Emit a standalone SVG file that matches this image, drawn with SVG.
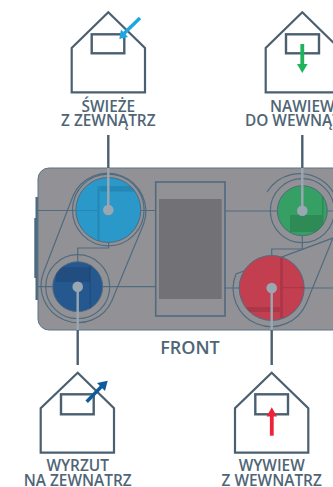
<svg xmlns="http://www.w3.org/2000/svg" width="333" height="487" viewBox="0 0 333 487">
<style>
.ln{fill:none;stroke:#4f6b80;stroke-width:1.2}
.pn{fill:none;stroke:#4f6b80;stroke-width:1.6}
.hs{fill:none;stroke:#4a6071;stroke-width:2.2}
.win{fill:none;stroke:#4a6071;stroke-width:2.4}
.lead{fill:none;stroke:#4a6071;stroke-width:2.4}
.pin{fill:none;stroke:#9aa7b3;stroke-width:2.4}
.dot{fill:#9aa7b3}
.lb{font-family:"Open Sans",sans-serif;font-weight:600;font-size:15.4px;fill:#4f6576;text-anchor:middle}
</style>
<defs>
<clipPath id="cb"><circle cx="108.3" cy="210" r="32.5"/></clipPath>
<clipPath id="cd"><circle cx="77.7" cy="286.7" r="25"/></clipPath>
<clipPath id="cg"><circle cx="302.3" cy="210.7" r="25"/></clipPath>
<clipPath id="cr"><circle cx="271.7" cy="288" r="32.5"/></clipPath>
</defs>
<g id="device">
<rect x="35.500" y="197" width="5" height="103" fill="#4a6a80"/>
<rect x="34.300" y="218" width="5" height="60" fill="#4a6a80"/>
<rect x="38" y="168" width="310" height="162" rx="11" fill="#929296" stroke="#5a7488" stroke-width="1"/>
<rect x="155.700" y="182" width="69.300" height="134" class="pn"/>
<rect x="159" y="199" width="62.700" height="100" fill="#727276"/>
<path class="ln" d="M38 210.500H75M140 210.500H156M38 286.700H52M102 286.700H156M225 211H277M327 211H333M225 288H240M304 288H333"/>
<path class="ln" d="M108.600 243V248H77.700V262M302.300 236V249H271.700V255"/>
<path class="ln" d="M73 196A38 38 0 0 1 143.600 224L112 300.400A37 37 0 0 1 43.300 273Z"/>
<path class="ln" d="M267 192A38 38 0 0 1 333 233M333 238L306.500 303A38 38 0 0 1 236 274Z"/>
<circle cx="108.300" cy="210" r="35.800" class="ln"/>
<circle cx="77.700" cy="286.700" r="32" class="ln"/>
<circle cx="302.300" cy="210.700" r="32" class="ln"/>
</g>
<g id="fan-fresh">
<circle cx="108.300" cy="210" r="32.500" fill="#2a98c8" stroke="#4f6b80"/>
<g clip-path="url(#cb)" fill="#1f6f99" fill-opacity=".4"><rect x="100" y="186" width="35" height="5.500"/><rect x="97.500" y="186" width="2" height="60"/><rect x="75" y="210" width="22" height="1"/></g>
<path class="pin" d="M108.300 168V210"/><circle cx="108.300" cy="210" r="5.300" class="dot"/>
</g>
<g id="fan-exhaust">
<circle cx="77.700" cy="286.700" r="25" fill="#25588f" stroke="#4f6b80"/>
<g clip-path="url(#cd)" fill="#1c4070" fill-opacity=".45"><rect x="56" y="267" width="34" height="15"/><rect x="89.500" y="262" width="1.500" height="50"/></g>
<path class="pin" d="M77.700 286.700V330"/><circle cx="77.700" cy="286.700" r="5.300" class="dot"/>
</g>
<g id="fan-supply">
<circle cx="302.300" cy="210.700" r="25" fill="#369f63" stroke="#4f6b80"/>
<g clip-path="url(#cg)" fill="#26774a" fill-opacity=".5"><rect x="290" y="215" width="32" height="17"/><rect x="322" y="190" width="1.500" height="40"/></g>
<path class="pin" d="M302.300 168V210.700"/><circle cx="302.300" cy="210.700" r="5.300" class="dot"/>
</g>
<g id="fan-extract">
<circle cx="271.700" cy="288" r="32.500" fill="#c33f4f" stroke="#4f6b80"/>
<g clip-path="url(#cr)" fill="#8f3040" fill-opacity=".45"><rect x="245" y="307" width="35" height="5"/><rect x="280" y="258" width="3" height="60"/><rect x="283" y="287" width="25" height="1.200"/></g>
<path class="pin" d="M271.700 288V330"/><circle cx="271.700" cy="288" r="5.300" class="dot"/>
</g>
<g id="connectors">
<path class="lead" d="M108.300 135V168M77.700 330V365M302.300 135V168M271.700 330V365"/>
</g>
<g id="house-fresh">
<path class="hs" d="M108.300 12.300L145 48V92.300H71.700V48Z"/>
<rect x="91.700" y="34.300" width="32.600" height="19" class="win"/>
<path d="M140 18L124 33.500" stroke="#1ea6e0" stroke-width="3.400" fill="none"/>
<path d="M119.300 39L121 29.500L128 37Z" fill="#1ea6e0"/>
<text class="lb" x="108.300" y="111.500">ŚWIEŻE</text><text class="lb" x="108.300" y="126.300">Z ZEWNĄTRZ</text>
</g>
<g id="house-supply">
<path class="hs" d="M302.300 12.300L339 48V92.300H265.700V48Z"/>
<rect x="286" y="34.300" width="33" height="19" class="win"/>
<path d="M302.300 44V65" stroke="#1fb35c" stroke-width="3.800" fill="none"/>
<path d="M302.300 73L297 64H307.600Z" fill="#1fb35c"/>
<text class="lb" x="302.300" y="111.500">NAWIEW</text><text class="lb" x="302.300" y="126.300">DO WEWNĄTRZ</text>
</g>
<g id="house-exhaust">
<path class="hs" d="M77.700 372.700L114 408.300V452.700H40.700V408.300Z"/>
<rect x="61" y="394.300" width="32.700" height="20" class="win"/>
<path d="M86.700 401.700L102 386" stroke="#0f5a9a" stroke-width="3.400" fill="none"/>
<path d="M107.700 380.700L105 391L97 383Z" fill="#0f5a9a"/>
<text class="lb" x="77.700" y="471.300">WYRZUT</text><text class="lb" x="77.700" y="486">NA ZEWNATRZ</text>
</g>
<g id="house-extract">
<path class="hs" d="M271.700 372.700L308.300 408.300V452.700H235V408.300Z"/>
<rect x="255.300" y="394.300" width="32.700" height="20" class="win"/>
<path d="M271.800 435.700V415" stroke="#ee2238" stroke-width="3.800" fill="none"/>
<path d="M271.800 407.300L277 416.500H266.600Z" fill="#ee2238"/>
<text class="lb" x="271.700" y="471.300">WYWIEW</text><text class="lb" x="271.700" y="486">Z WEWNATRZ</text>
</g>
<text id="front" x="190" y="354" font-family="'Open Sans',sans-serif" font-weight="600" font-size="18px" fill="#4f6576" text-anchor="middle">FRONT</text>
</svg>
